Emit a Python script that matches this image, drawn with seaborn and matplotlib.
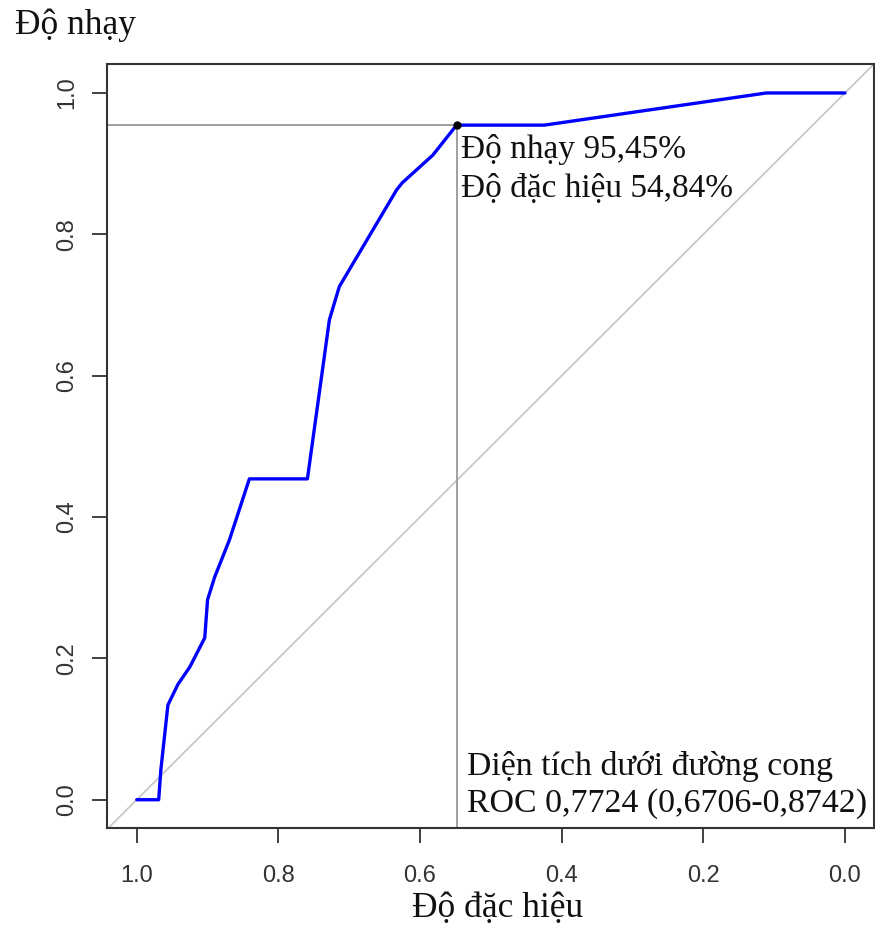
import matplotlib
matplotlib.use("Agg")
import matplotlib.pyplot as plt
import seaborn as sns
import pandas as pd

# ROC curve (specificity, sensitivity)
specificity = [1.000, 0.969, 0.966, 0.956, 0.942, 0.925, 0.904, 0.900, 0.890, 0.869,
               0.841, 0.759, 0.728, 0.714, 0.633, 0.625, 0.582, 0.5484, 0.4245, 0.111, 0.000]
sensitivity = [0.000, 0.000, 0.042, 0.134, 0.163, 0.188, 0.229, 0.283, 0.315, 0.368,
               0.454, 0.454, 0.679, 0.726, 0.863, 0.873, 0.912, 0.9545, 0.9545, 1.000, 1.000]
best_spec = 0.5484
best_sens = 0.9545
tick_values = [1.0, 0.8, 0.6, 0.4, 0.2, 0.0]
tick_labels = ["1.0", "0.8", "0.6", "0.4", "0.2", "0.0"]
ylabel_text = "Độ nhạy"
xlabel_text = "Độ đặc hiệu"
best_text = ["Độ nhạy 95,45%", "Độ đặc hiệu 54,84%"]
auc_text = ["Diện tích dưới đường cong", "ROC 0,7724 (0,6706-0,8742)"]

sns.set_style("white")
plt.rcParams['font.family'] = ['Liberation Sans', 'DejaVu Sans']
serif = ['Liberation Serif', 'DejaVu Serif']

df = pd.DataFrame({"spec": specificity, "sens": sensitivity})

fig = plt.figure(figsize=(8.75, 9.34), dpi=100)
ax = fig.add_axes([107/875, 1 - 828/934, 767/875, (828-64)/934])

# diagonal reference line
ax.axline((1.0, 0.0), (0.0, 1.0), color="#c8c8c8", lw=1.3, zorder=1)
# best threshold guide lines
ax.plot([1.042, best_spec], [best_sens, best_sens], color="#a0a0a0", lw=1.4, zorder=2)
ax.plot([best_spec, best_spec], [-0.04, best_sens], color="#a0a0a0", lw=1.4, zorder=2)

sns.lineplot(data=df, x="spec", y="sens", sort=False, estimator=None,
             color="#0000ff", lw=2.4, ax=ax, zorder=3)
ax.plot([best_spec], [best_sens], "o", color="black", ms=5, zorder=4)

ax.set_xlim(1.042, -0.041)
ax.set_ylim(-0.04, 1.041)
ax.set_xticks(tick_values)
ax.set_xticklabels(tick_labels)
ax.set_yticks(tick_values)
ax.set_yticklabels(tick_labels, rotation=90, va="center")
ax.tick_params(axis="both", bottom=True, left=True, length=10.5, width=1.3,
               color="#333333", labelsize=17, labelcolor="#333333", direction="out")
ax.tick_params(axis="x", pad=16)
ax.tick_params(axis="y", pad=10)
for s in ax.spines.values():
    s.set_color("#333333")
    s.set_linewidth(1.5)
ax.set_xlabel("")
ax.set_ylabel("")

fs = 24
ax.text(0.5416, 0.908, best_text[0], family=serif, fontsize=fs, color="#111111",
        ha="left", va="baseline")
ax.text(0.5416, 0.853, best_text[1], family=serif, fontsize=fs, color="#111111",
        ha="left", va="baseline")
ax.text(0.533, 0.035, auc_text[0], family=serif, fontsize=24.4, color="#111111",
        ha="left", va="baseline")
ax.text(0.533, -0.017, auc_text[1], family=serif, fontsize=24.4, color="#111111",
        ha="left", va="baseline")

fig.text(15/875, 1 - 34/934, ylabel_text, family=serif, fontsize=25.5, color="#111111",
         ha="left", va="baseline")
fig.text(498/875, 1 - 917/934, xlabel_text, family=serif, fontsize=25.5, color="#111111",
         ha="center", va="baseline")

fig.savefig("out.png", dpi=100, facecolor="white")
